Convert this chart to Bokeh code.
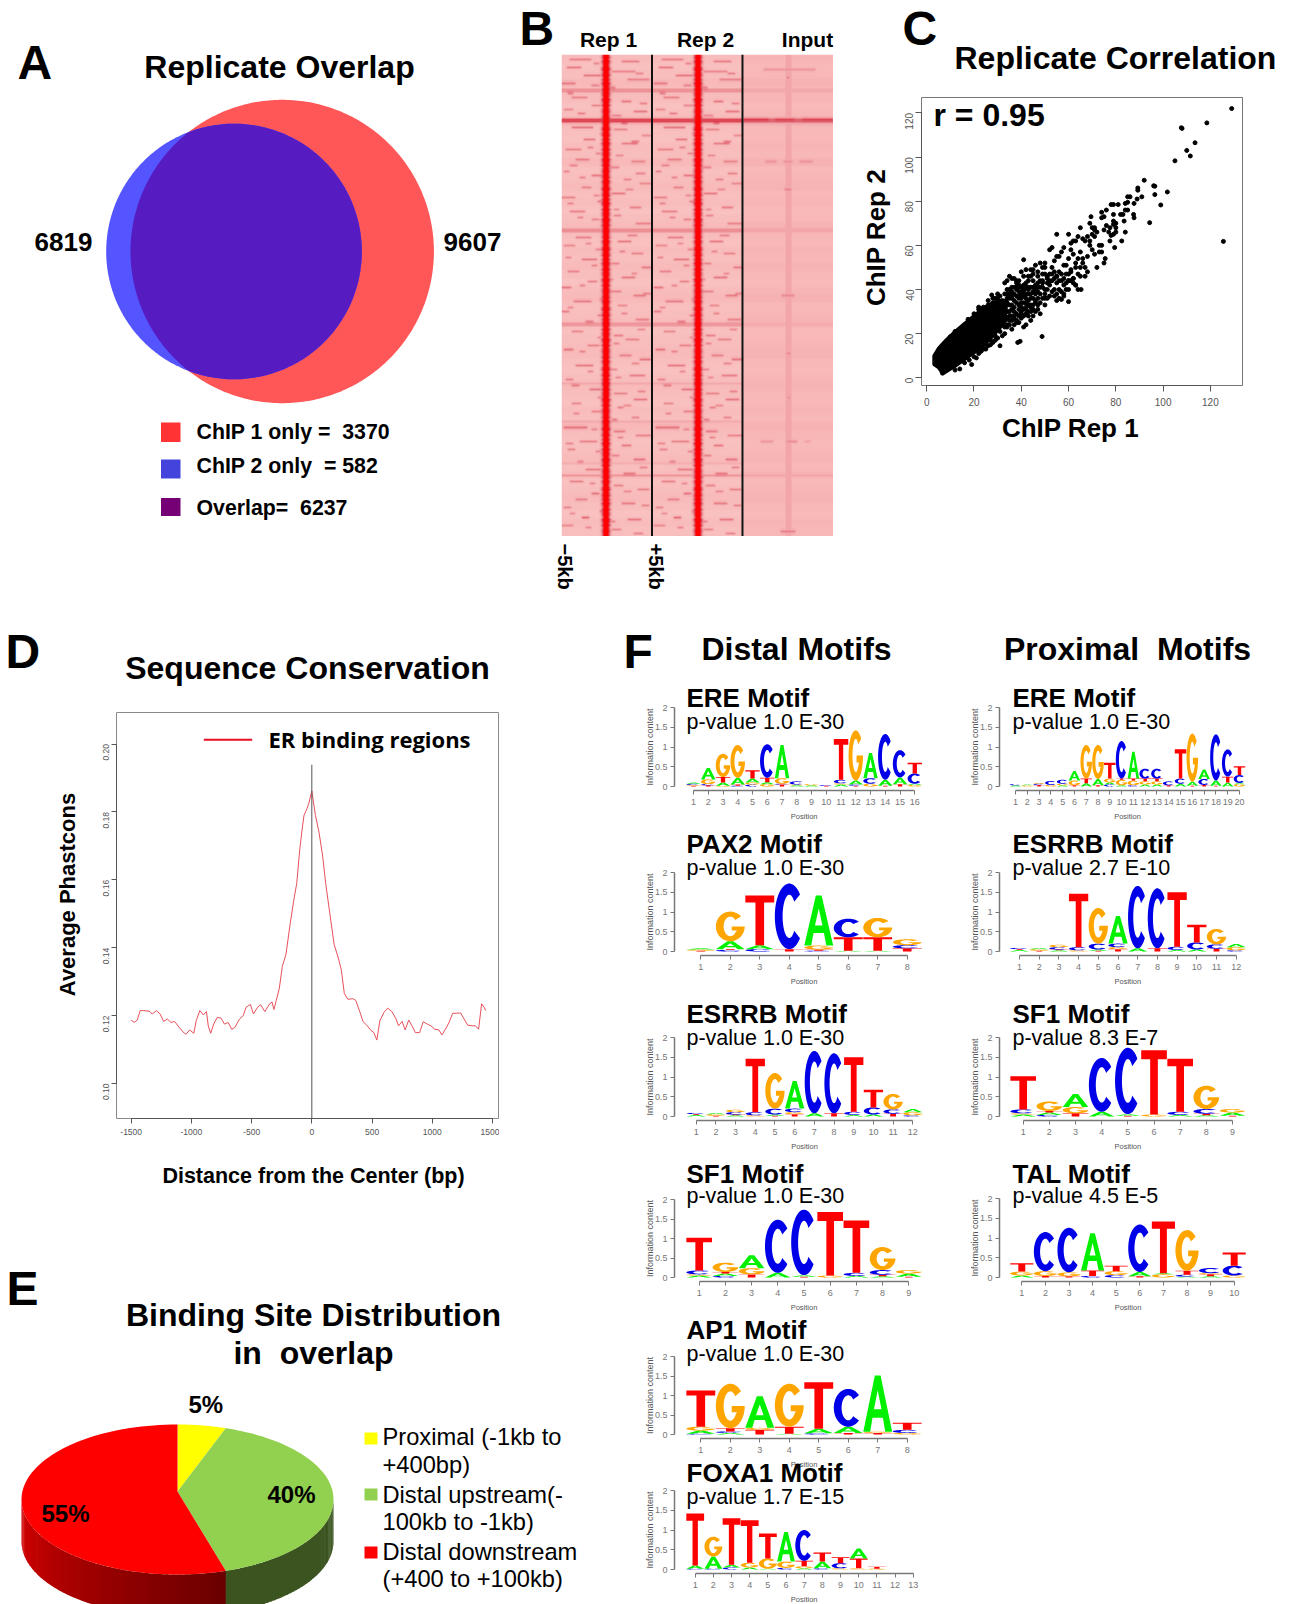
import numpy as np
from math import pi
from bokeh.plotting import figure
from bokeh.models import Column, FixedTicker, LinearColorMapper
from bokeh.core.properties import value
from bokeh.embed import file_html
from bokeh.resources import INLINE

# ---------------- data ----------------
VENN_CHIP1 = 9607
VENN_CHIP2 = 6819
VENN_LEGEND = ["ChIP 1 only =\u00a0\u00a03370", "ChIP 2 only\u00a0\u00a0= 582", "Overlap=\u00a0\u00a06237"]

PIE_LABELS = ["Proximal", "Distal upstream", "Distal downstream"]
PIE_VALUES = [5, 40, 55]

D_X = [-1500,-1475,-1450,-1425,-1400,-1350,-1325,-1290,-1260,-1230,-1200,-1170,-1140,-1100,-1070,-1045,-1015,-980,-960,-930,-900,-875,-860,-840,-815,-785,-755,-725,-695,-665,-640,-600,-570,-545,-510,-485,-450,-425,-390,-350,-330,-315,-295,-270,-245,-215,-180,-150,-125,-100,-80,-65,-40,-25,0,30,60,90,115,150,185,220,245,270,300,340,365,400,425,460,490,515,540,565,600,630,665,700,720,750,775,805,835,860,895,925,960,990,1020,1055,1080,1110,1140,1170,1200,1235,1265,1295,1330,1360,1385,1410,1430,1445]
D_Y = [.1187,.1180,.1187,.1215,.1215,.1213,.1205,.1215,.1205,.1183,.1190,.1180,.1183,.1165,.1152,.1145,.1158,.1148,.1185,.1215,.1202,.1212,.1170,.1148,.1175,.1195,.1193,.1175,.1180,.1160,.1165,.1190,.1200,.1225,.1233,.1205,.1225,.1232,.1212,.1235,.1240,.1218,.1245,.1280,.1345,.1380,.1470,.1540,.1590,.1690,.1750,.1790,.1810,.1825,.1862,.1790,.1740,.1670,.1590,.1500,.1410,.1370,.1335,.1265,.1248,.1250,.1245,.1210,.1183,.1170,.1157,.1150,.1128,.1185,.1210,.1222,.1212,.1190,.1170,.1183,.1158,.1187,.1168,.1150,.1150,.1182,.1175,.1170,.1160,.1158,.1143,.1160,.1180,.1207,.1207,.1208,.1190,.1172,.1170,.1170,.1160,.1235,.1225,.1215]

# scatter: solid core outline, then single points
C_CORE_X = [3,3,5,8,12,17,22,26,30,34,33,29,25,21,17,12.5,9.5,8,6.5,6,5]
C_CORE_Y = [6,10,13.5,17,21,25.5,30,33,35,35,25,20,15.5,12,9,5.5,3.5,2.5,1.5,3,4.5]
C_POINTS = [(129,122),(118.5,115.5),(108,113),(107.7,113.3),(113.5,106.5),(110,103),(111.5,100.5),(105,98.3),(125.5,61.8),(94.3,70.3),(99,78.3),(101.8,84.2),(96.5,83),(96.5,86.8),(96,87),(92,89.5),(89.3,85),(89.3,86),(91,82),(89,81),(87.7,79),(86,82),(85,82),(85,79.5),(84,79),(87.7,72.5),(87.5,74),(85,76),(84,76),(83,74),(82,74),(83.5,71),(79,74),(80,70),(79,78.5),(81,78.5),(78,78.5),(76,76),(74,75),(75,73),(74,72.5),(69.5,73),(79,71),(79,69.5),(80,68),(76,69),(77.5,68),(75,67),(77,66),(78,64.5),(77.5,62),(79,65),(80,66),(84,66),(82.5,62),(79.5,59),(75.5,54),(75,52),(74,57),(73,60),(74,60),(72,66),(71,67),(71,64),(70,65),(70,68),(71,68),
 (69,70),(68,64),(69,62),(67,62),(66,63),(65,68),(64,64),(63,62),(62,62),(61,61),(60,65),(66,52),(67,50),(68,55),(69,60),(70,58),(71,56),(72,50),(73,57),(65,57),(64,54),(63,50),(62,56),(61,58),(60,54),(59,51),(58,59),(57,57),(56,55),(55,55),(55,65),(68,48),(67,46),(66,54),(65,50),(64,47),(63,52),(62,45),(61,49),(60,44),(59,47),(58,51),(57,44),(56,48),(55,46),(54,53),(53,44),(52,58),(51,46),(53,59),(50,50),(60,44),(61,48),(62,45),(63,42),(64,40),(65,46),(63,42),(62,43),(60,40),(58,38),(56,36),(55,46),(54,48),(53,50),(52,42),(65.3,40),(60,34.5),(58,37),(57,35.5),(55,35),(54,40),
 (50,47),(49,50),(48,44),(47,48),(46,42),(45,49),(44,46),(43,44),(42,49),(41,40),(40,48),(39,44),(38,44),(37,45),(36,45),(35,46),(34,44),(33,43),(50,36),(49,43),(48,38),(47,41),(46,35),(45,44),(44,33),(43,40),(42,36),(41,42),(40,34),(39,37),(38,43),(37,32),(36,36),(35,30),(34,40),(33,32),(52,37),(51,40),(50,33),(49,44),(48,29),(47,36),(46,34),(45,41),(44,30),(43,35),(42,32),(41,28),(40,27),(39,36),(38,25),(37,30),(36,28),(35,36),(34,23),(33,31),(52,47),(51,45),(50,52),(49,47),(48,52),(47,46),(46,51),(45,47),(44,49),(43,46),(42,43),(41,46),(40,41),(39,42),(38,40),(37,41),(36,39),(35,40),(34,38),
 (48.8,18.7),(39.5,16.5),(38.5,16),(41,53.5),(36,22),(35,24),(27.5,37.5),(17.5,26.5),(10,18.6),(42,24),(41,23),(44,26),(45,28),(46,30),(47,33),(48,34),(37,24),(38,26),(39,28),(40,30),(41,31),(42,29),(43,28),(44,32),(45,31),(46,38),(47,39),
 (33,20),(31,14.5),(29,17),(27,15),(25,13),(23,12),(21,9),(19,6),(30,18),(28,16),(26,14.5),(24,13),(22,11),(20,9.5),(18,8),(16,6.8),(14,4),(12,3.5),(36,26),(34,24),(32,19),(30,38),(28,36),(26,35),(24,32),(22,31),(20,29),(18,26),(16,24),(14,22),(12,21),(10,18),(8,15.5),(6,13),(33,38),(31,37),(29,36),(38,34),(39,33),(40,36),(41,37),(42,38),(43,38),(44,38),(45,36),
 (34,34),(35,33),(36,33),(37,35),(38,37),(39,39),(40,38),(34,30),(35,28),(36,31),(37,27),(38,29),(39,31),(40,32),(34,27),(33,26),(32,24),(33,29),(31,32),(32,35),(34,36),(36,37),(41,34),(42,34),(43,33),(44,36),
 (35,38),(36,41),(37,38),(38,41),(39,41),(40,39),(41,39),(42,41),(43,41),(44,41),(45,39),(46,40),(47,43),(48,41),(49,41),(50,40),(51,43),(52,44),(53,47),(54,45),(55,43),(56,44),(57,47),(58,45),(59,43),(35,26),(37,28),(39,25),(40,29),(42,31),(43,30),(45,33),(47,31),(49,36),(50,38),(51,36),(53,39),(54,37),(55,38),(56,40),(57,39),(58,42),(59,40),(60,47),(61,44),(29,31),(31,28),(32,27),(33,23),(31,21),(29,19),(27,17),(25,15),(23,13.5),(30,36),(28,34),(26,33),(24,30),(22,32)]
C_X = [pt[0] for pt in C_POINTS]
C_Y = [pt[1] for pt in C_POINTS]

# heat map: tone of each 4-row group, horizontal bands, dashes (row, first col, last col, level)
H_ROW_TONE = [.24,.20,.22,.27,.21,.24,.19,.23,.25,.21,.20,.24,.22,.27,.20,.23,.25,.21,.24,.19,.22,.26,.23,.20,.24,.21,.25,.22,.19,.24,.27,.21,.23,.25,.20,.22,.24,.26,.21,.19,.23,.25,.22,.20,.24,.21,.27,.23,.20,.22,.25,.21,.24,.20,.23,.26,.22,.19,.24,.21,.23]
H_BANDS = [(17,19,.42),(32,34,.70),(87,89,.42),(134,136,.40),(164,165,.36),(183,184,.36),(204,205,.34),(210,211,.44)]
H_STREAKS = [(2,8,30,.5),(3,60,78,.52),(6,5,20,.55),(8,50,74,.5),(10,22,40,.55),(12,66,88,.5),(14,0,14,.52),(15,30,38,.5),(21,10,26,.5),(23,60,70,.55),(25,30,40,.5),(27,2,12,.48),(28,72,86,.55),(30,50,60,.48),(36,10,32,.55),(37,52,66,.5),(40,80,90,.48),(42,22,34,.55),(44,60,76,.52),(47,4,20,.5),(49,34,40,.5),(52,14,28,.52),(53,70,84,.48),(56,48,58,.5),(58,2,8,.52),(60,30,42,.55),(62,62,70,.5),(64,78,90,.48),(66,20,30,.5),(69,50,64,.55),(71,0,14,.5),(73,36,42,.55),(76,68,80,.52),(78,8,24,.52),(80,52,60,.5),(82,30,38,.5),(84,74,90,.5),(91,14,30,.52),(93,56,70,.55),(95,2,14,.48),(97,34,42,.5),(99,70,82,.5),(102,20,36,.55),(104,50,58,.5),(106,80,90,.52),(108,6,18,.5),(111,60,74,.55),(113,26,36,.52),(116,0,10,.55),(118,46,60,.5),(120,72,84,.52),(123,12,30,.52),(125,56,66,.48),(128,0,8,.52),(130,36,42,.55),(132,74,88,.5),(138,10,22,.5),(140,52,62,.52),(142,64,78,.5),(145,26,38,.5),(147,2,12,.55),(150,58,70,.5),(152,78,90,.55),(155,14,32,.55),(157,48,56,.5),(160,68,84,.52),(162,4,12,.5),(167,28,40,.55),(169,52,66,.5),(172,72,86,.55),(174,10,20,.5),(176,56,62,.52),(178,30,42,.5),(181,70,78,.5),(186,2,26,.55),(188,52,64,.52),(190,74,90,.5),(193,18,36,.52),(195,60,70,.55),(197,6,14,.5),(200,50,58,.5),(202,72,84,.55),(207,24,40,.52),(209,62,74,.5),(213,8,22,.52),(215,52,62,.5),(217,76,88,.5),(219,30,38,.55),(222,14,26,.5),(224,60,74,.52),(226,2,10,.5),(228,38,42,.55),(231,20,28,.6),(232,66,80,.55),(235,0,12,.48),(237,50,60,.5),(239,72,82,.5),
 (4,32,38,.5),(9,74,82,.5),(16,44,54,.48),(19,6,12,.5),(24,78,86,.5),(29,16,24,.52),(34,60,66,.5),(39,38,44,.48),(43,70,78,.5),(46,26,32,.5),(50,54,62,.48),(55,8,16,.5),(59,74,84,.5),(61,18,24,.5),(67,64,72,.48),(70,32,38,.5),(74,6,12,.5),(77,52,58,.48),(81,16,22,.5),(85,40,46,.5),(90,66,76,.5),(94,24,30,.48),(98,58,64,.5),(101,4,10,.5),(105,30,36,.5),(109,70,76,.48),(112,46,52,.5),(115,18,24,.5),(119,82,90,.48),(122,38,42,.5),(126,6,12,.48),(129,60,66,.5),(133,24,32,.5),(137,76,84,.48),(141,36,40,.5),(144,52,58,.5),(148,18,24,.5),(151,40,46,.48),(154,70,78,.5),(158,26,32,.5),(161,54,60,.48),(165,10,18,.5),(168,76,84,.5),(171,36,42,.5),(175,62,70,.48),(179,12,18,.5),(182,50,56,.5),(187,30,36,.48),(191,56,62,.5),(194,4,12,.5),(198,34,40,.5),(203,16,22,.48),(206,78,86,.5),(211,44,50,.5),(214,28,34,.5),(218,62,70,.48),(221,40,44,.5),(225,80,88,.5),(229,8,14,.48),(233,46,54,.5),(236,24,30,.5)]
H_PEAK_PROFILE = [.32,.38,.55,.85,1,1,1,1,1,.85,.55,.38,.32]
H_PEAK_WOBBLE = [.6,.8,.5,.9,.7,.5,.8,1,.6,.7,.9,.5,.8,.6,1,.7,.5,.9,.6,.8,.7,.5,1,.8,.6,.9,.5,.7,.8,.6]
H_INPUT_STREAKS = [(7,20,73,.42),(32,0,25,.78),(32,32,52,.72),(32,60,90,.72),(53,22,33,.42),(53,40,50,.42),(53,57,70,.42),(11,43,47,.5),(67,41,49,.48),(120,38,52,.45),(149,43,48,.48),(193,17,30,.42),(193,43,55,.45),(193,62,68,.38),(238,37,53,.5),(171,44,48,.45)]
H_INPUT_PEAK = .33

LOGOS = {
 "d_ere": ["T02 G02 C03 A03","T03 C03 G12 A29","G02 A08 T14 G59","C02 T03 A17 G83","C05 G05 A10 T21","G06 A05 T11 C85","T05 C02 G14 A84","A03 G02 C08","A03 G03","T02 C02","A05 G03 C09 T103","T02 C03 A10 G127","G07 C14 A64","T02 A15 C116","T06 A17 C69","G04 A03 C26 T27"],
 "d_pax": ["T02 G03 A03","C04 T02 A20 G75","C06 A10 T126","T06 C166","C02 T03 G10 A127","A02 T34 C47","A02 T34 G49","T08 C08 G15"],
 "esrrb": ["A04 T02 C03","T02 G04 A03","A03 T02 C06 G06","G03 C08 T135","T02 A03 C15 G90","T06 G05 C09 A70","A08 C158","T08 C152","A04 C08 T138","A05 C18 T45","T07 C11 G39","C03 G08 A08"],
 "sf1": ["A05 G03 C10 T84","C04 A06 T04 G24","T08 G16 A33","A12 C136","T02 A04 C168","G05 T163","A04 C08 T134","A03 T04 C12 G59","T02 A08 G09"],
 "ap1": ["C02 A08 G10 T93","A04 C04 T08 G114","T12 G05 A81","A02 T18 G110","C03 A12 T119","T04 A16 C97","T04 G03 A144","G04 C08 T18"],
 "foxa": ["C02 A08 T132","C02 A31 G50","C05 A07 T118","A05 G12 T108","A02 G26 T63","C04 G16 A75","A03 G05 T14 C78","C03 A17 T23","G03 C13 T15","G03 T25 A25","G02 T05","",""],
 "p_ere": ["A03 C03","G03 A02","T04 C03 G02","G04 C10","A03 G04 C10","T03 G12 A24","A08 T12 G85","T03 A16 G86","C05 A05 G10 T40","A03 G14 T03 C95","C03 G12 T05 A68","A05 G08 T07 C25","A05 G08 T07 C25","T03 C10","A07 C13 T74","T02 A10 G122","T04 C15 A24","T02 A13 C117","A10 T15 C69","G06 A03 C20 T22"],
 "tal": ["A05 G10 T21","T04 G12 C99","T03 G10 C113","C04 T14 A94","C06 G10 T14","T03 A11 C120","G08 A03 T131","A02 C05 T10 G103","A03 T05 G03 C13","G05 C25 T33"],
}
DISTAL = [("d_ere","ERE Motif","p-value 1.0 E-30"),("d_pax","PAX2 Motif","p-value 1.0 E-30"),("esrrb","ESRRB Motif","p-value 1.0 E-30"),("sf1","SF1 Motif","p-value 1.0 E-30"),("ap1","AP1 Motif","p-value 1.0 E-30"),("foxa","FOXA1 Motif","p-value 1.7 E-15")]
PROXIMAL = [("p_ere","ERE Motif","p-value 1.0 E-30"),("esrrb","ESRRB Motif","p-value 2.7 E-10"),("sf1","SF1 Motif","p-value 8.3 E-7"),("tal","TAL Motif","p-value 4.5 E-5")]

# ---------------- layout constants (page pixels) ----------------
D_GEOM = [(707,786,693,914.3,707,729.5),(872,951,700.3,906.7,853,875),(1037,1116,695.7,912.3,1023,1045),(1199,1277,698.7,908.3,1183,1203),(1356,1434,700.3,906.7,1339,1361),(1490,1569,694.7,912.7,1482,1504)]
P_GEOM = [(707,786,1015,1239,707,729.5),(872,951,1019,1235.7,853,875),(1037,1116,1022.7,1232,1023,1045),(1198,1277,1021.3,1233.7,1183,1203)]

FONT = "Liberation Sans"
LEFT = 50   # the left border Bokeh keeps in every figure
children = []

def place(f, left, top):
    # the root sits LEFT px left of the page, so a child's left is page position + LEFT
    f.styles = {"position": "absolute", "left": f"{left + LEFT}px", "top": f"{top}px"}
    children.append(f)

def panel(l, t, r, b, xr, yr, mb=0, mr=0, mt=0, axes=False):
    kw = {} if axes else {"x_axis_type": None, "y_axis_type": None}
    f = figure(width=r - l + LEFT + mr, height=b - t + mb + mt, x_range=xr, y_range=yr,
               output_backend="svg", toolbar_location=None, tools="",
               min_border_left=LEFT, min_border_right=mr, min_border_top=mt, min_border_bottom=mb,
               background_fill_color=None, border_fill_color=None, outline_line_color=None, **kw)
    f.grid.visible = False
    place(f, l - LEFT, t - mt)
    return f

def style_axis(ax, ticks, size, over=None, color="#555555", tick=5, standoff=4):
    ax.ticker = FixedTicker(ticks=ticks)
    ax.bounds = (min(ticks), max(ticks))
    ax.axis_line_color = color
    ax.major_tick_line_color = color
    ax.minor_tick_line_color = None
    ax.major_tick_in = 0
    ax.major_tick_out = tick
    ax.major_label_text_color = color
    ax.major_label_text_font = FONT
    ax.major_label_text_font_size = size
    ax.major_label_standoff = standoff
    if over:
        ax.major_label_overrides = over

# ---------------- A venn ----------------
k = 151.7 / np.sqrt(VENN_CHIP1)
r1, r2 = k * np.sqrt(VENN_CHIP1), k * np.sqrt(VENN_CHIP2)
c1, c2, cy = 281.7, 233.5, 251
fA = panel(100, 95, 440, 408, (100, 440), (408, 95))
th = np.linspace(0, 2 * pi, 361)
fA.patch(c1 + r1 * np.cos(th), cy + r1 * np.sin(th), fill_color="#FF5757", line_color=None)
fA.patch(c2 + r2 * np.cos(th), cy + r2 * np.sin(th), fill_color="#5555FF", line_color=None)
bx, by = c2 + r2 * np.cos(th), cy + r2 * np.sin(th)
rx, ry = c1 + r1 * np.cos(th), cy + r1 * np.sin(th)
ins_b = (bx - c1) ** 2 + (by - cy) ** 2 <= r1 ** 2
ins_r = (rx - c2) ** 2 + (ry - cy) ** 2 <= r2 ** 2
lx = np.r_[bx[ins_b], rx[ins_r]]
ly = np.r_[by[ins_b], ry[ins_r]]
order = np.argsort(np.arctan2(ly - cy, lx - (lx.min() + lx.max()) / 2))
fA.patch(lx[order], ly[order], fill_color="#561BC1", line_color=None)

# ---------------- B heat map ----------------
def soften(a):
    out = a.copy()
    out[1:-1, :] = .15 * a[:-2, :] + .7 * a[1:-1, :] + .15 * a[2:, :]
    out2 = out.copy()
    out2[:, 1:-1] = .25 * out[:, :-2] + .5 * out[:, 1:-1] + .25 * out[:, 2:]
    return out2

def heat(streaks, bands, peak_col, input_panel=False, shift=0):
    rows, cols = 241, 91
    a = np.zeros((rows, cols))
    for i in range(rows):
        a[i, :] = H_ROW_TONE[i // 4] if not input_panel else .28 + (H_ROW_TONE[i // 4] - .22) * .4
    for r0, r1_, lv in bands:
        a[r0:r1_, :] = np.maximum(a[r0:r1_, :], lv if not input_panel else lv * .8)
    for row, c0, c1_, lv in streaks:
        c0, c1_ = min(c0 + shift, 90), min(c1_ + shift, 91)
        a[row, c0:c1_] = np.maximum(a[row, c0:c1_], lv)
    a = soften(a)
    if input_panel:
        a[:, peak_col - 3:peak_col + 4] = np.maximum(a[:, peak_col - 3:peak_col + 4], H_INPUT_PEAK)
    else:
        n = len(H_PEAK_PROFILE) // 2
        for i in range(rows):
            w = H_PEAK_WOBBLE[i % len(H_PEAK_WOBBLE)]
            for j, pv in enumerate(H_PEAK_PROFILE):
                cur = a[i, peak_col + j - n]
                val = 1.0 if pv == 1 else cur + (pv - cur) * w
                a[i, peak_col + j - n] = max(cur, val)
    return a[::-1]

stops_v = [0, .28, .55, .8, 1]
stops_c = np.array([[252, 214, 212], [248, 184, 184], [222, 90, 104], [228, 32, 48], [255, 0, 0]])
palette = ["#%02x%02x%02x" % tuple(int(np.interp(t, stops_v, stops_c[:, i])) for i in range(3)) for t in np.linspace(0, 1, 256)]
mapper = LinearColorMapper(palette=palette, low=0, high=1)
fB = panel(561, 54, 833, 536, (0, 272), (0, 482))
fB.image(image=[heat(H_STREAKS, H_BANDS, 44)], x=0, y=0, dw=91, dh=482, color_mapper=mapper)
fB.image(image=[heat(H_STREAKS, H_BANDS, 45, shift=1)], x=91, y=0, dw=91, dh=482, color_mapper=mapper)
fB.image(image=[heat(H_INPUT_STREAKS, H_BANDS, 45, True)], x=182, y=0, dw=90, dh=482, color_mapper=mapper)
fB.segment(x0=[90.5, 181], y0=[0, 0], x1=[90.5, 181], y1=[482, 482], line_color="#111111", line_width=2)

# ---------------- C scatter ----------------
fC = panel(921, 97, 1243, 385, (-2.2, 134), (-3.5, 127), mb=40, axes=True)
fC.patch(C_CORE_X, C_CORE_Y, fill_color="black", line_color="black", line_width=3)
fC.scatter(C_X, C_Y, size=4, color="black")
fC.outline_line_color = "#777777"
style_axis(fC.xaxis[0], [0, 20, 40, 60, 80, 100, 120], "10px", color="#555555", tick=6, standoff=6)
style_axis(fC.yaxis[0], [0, 20, 40, 60, 80, 100, 120], "10px", color="#555555", tick=6, standoff=6)
fC.yaxis[0].major_label_orientation = pi / 2

# ---------------- D line ----------------
fD = panel(116, 712, 499, 1118, (-1622, 1558.6), (.0897, .2093), mb=30, axes=True)
fD.line(D_X, D_Y, line_color="#E8505A", line_width=1)
fD.segment(x0=[0], y0=[.0897], x1=[0], y1=[.1939], line_color="#555555", line_width=1)
fD.outline_line_color = "#8A8A8A"
style_axis(fD.xaxis[0], [-1500, -1000, -500, 0, 500, 1000, 1500], "8.5px", {-1500: "-1500", -1000: "-1000", -500: "-500"}, tick=5, standoff=5)
style_axis(fD.yaxis[0], [.10, .12, .14, .16, .18, .20], "8.5px", {.10: "0.10", .12: "0.12", .14: "0.14", .16: "0.16", .18: "0.18", .20: "0.20"}, tick=5, standoff=5)
fD.yaxis[0].major_label_orientation = pi / 2

# ---------------- E 3D pie ----------------
pcx, pcy, prx, pry, pdepth, pvertex = 177, 1499, 156, 75, 42, 8
fE = panel(0, 1410, 345, 1604, ((0 - pcx) / prx, (345 - pcx) / prx), ((pcy - 1604) / pry, (pcy - 1410) / pry))
cum = np.r_[0, np.cumsum(PIE_VALUES)] / sum(PIE_VALUES) * 2 * pi
top_cols = ["#FFFF00", "#92D050", "#FF0000"]
dep = pdepth / pry
sx, sy, sc = [], [], []
for a0, a1, kind in [(cum[1], cum[2], "g"), (cum[2], cum[3], "r")]:
    lo, hi = max(a0, pi / 2), min(a1, 3 * pi / 2)
    ed = np.linspace(lo, hi, 46)
    for i in range(45):
        aa = np.linspace(ed[i], ed[i + 1] + .01, 3)
        xs_ = np.sin(aa); ys_ = np.cos(aa)
        sx.append(np.r_[xs_, xs_[::-1]]); sy.append(np.r_[ys_, ys_[::-1] - dep])
        if kind == "g":
            sc.append("#3C5520")
        else:
            t = i / 44
            sc.append("#%02x0000" % int(0x6A + (0xD8 - 0x6A) * t))
fE.patches(sx, sy, fill_color=sc, line_color=None)
vy = pvertex / pry
for i in range(3):
    aa = np.linspace(cum[i], cum[i + 1], 90)
    fE.patch(np.r_[0, np.sin(aa)], np.r_[vy, np.cos(aa)], fill_color=top_cols[i], line_color=None)

# ---------------- F logos ----------------
def unit_letter(ch):
    if ch == "T":
        return [0, 1, 1, .65, .65, .35, .35, 0], [1, 1, .86, .86, 0, 0, .86, .86]
    if ch == "A":
        return ([0, .4, .5, .5, .37, .63, .5, .5, .6, 1, .76, .68, .32, .24],
                [0, 1, 1, .74, .40, .40, .74, 1, 1, 0, 0, .25, .25, 0])
    t_out = np.radians(np.linspace(42, 318, 50))
    t_in = t_out[::-1]
    if ch == "C":
        return (np.r_[.5 + .5 * np.cos(t_out), .5 + .23 * np.cos(t_in)].tolist(),
                np.r_[.5 + .5 * np.sin(t_out), .5 + .33 * np.sin(t_in)].tolist())
    t_out = np.radians(np.linspace(42, 360, 50))
    t_in = np.radians(np.linspace(325, 42, 50))
    return (np.r_[.5 + .5 * np.cos(t_out), [.55, .55, .73], .5 + .23 * np.cos(t_in)].tolist(),
            np.r_[.5 + .5 * np.sin(t_out), [.5, .36, .36], .5 + .33 * np.sin(t_in)].tolist())

LET_COL = {"A": "#00F000", "C": "#0000E8", "G": "#FFA500", "T": "#FF0000"}

def logo(key, geom, axis_x):
    y2, y0, x1, xn, _, _ = geom
    stacks = LOGOS[key]
    n = len(stacks)
    dx = (xn - x1) / (n - 1)
    dy = (y0 - y2) / 2
    l, r, t, b = int(axis_x), int(xn + dx * .5 + 6), int(y2 - 6), int(y0 + 4)
    f = panel(l, t, r, b, (1 + (l - x1) / dx, 1 + (r - x1) / dx), (-(b - y0) / dy, 2 + (y2 - t) / dy), mb=24, axes=True)
    xs, ys, cs = [], [], []
    for i, s in enumerate(stacks):
        base_h = 0.0
        for tok in s.split():
            ch, h = tok[0], int(tok[1:]) / 100
            ux, uy = unit_letter(ch)
            xs.append((np.array(ux) * .98 + i + 1 - .49).tolist())
            ys.append((np.array(uy) * h + base_h).tolist())
            cs.append(LET_COL[ch])
            base_h += h
    f.patches(xs, ys, fill_color=cs, line_color=None)
    style_axis(f.xaxis[0], list(range(1, n + 1)), "9px", color="#777777", tick=4, standoff=4)
    style_axis(f.yaxis[0], [0, .5, 1, 1.5, 2], "9px", {0: "0", .5: "0.5", 1: "1", 1.5: "1.5", 2: "2"}, color="#777777", tick=4, standoff=3)
    f.xaxis[0].axis_line_width = 1.5
    f.yaxis[0].axis_line_width = 1.5

for (key, _, _), g in zip(DISTAL, D_GEOM):
    logo(key, g, 674)
for (key, _, _), g in zip(PROXIMAL, P_GEOM):
    logo(key, g, 999)

# ---------------- text layer ----------------
base = figure(width=1293 + LEFT, height=1604, x_range=(0, 1293), y_range=(1604, 0), output_backend="svg",
              toolbar_location=None, tools="", min_border_left=LEFT, min_border_right=0, min_border_top=0, min_border_bottom=0,
              x_axis_type=None, y_axis_type=None,
              background_fill_color=None, border_fill_color=None, outline_line_color=None)
base.grid.visible = False

BASE_SHIFT = .37  # the SVG text sits this fraction of its size under the asked baseline

def T(x, y, s, size, bold=True, align="left", angle=0, color="black", font=FONT):
    if angle == 0:
        y = y - BASE_SHIFT * size
    elif angle > 0:
        x = x - BASE_SHIFT * size
    else:
        x = x + BASE_SHIFT * size
    base.text([x], [y], text=[s], text_font=value(font), text_font_size=f"{size}px",
              text_font_style="bold" if bold else "normal", text_align=align, text_baseline="alphabetic",
              text_color=color, angle=angle)

for s, x, y in [("A", 17, 80), ("B", 519, 46), ("C", 902, 46), ("D", 5, 669), ("E", 6, 1306), ("F", 623, 669)]:
    T(x, y, s, 48)
T(279, 78.5, "Replicate Overlap", 32, align="center")
T(34, 251, str(VENN_CHIP2), 26)
T(443, 251, str(VENN_CHIP1), 26)
base.quad(left=[160.5, 160.5, 160.5], right=[180, 180, 180], top=[422, 459, 497.5], bottom=[441.5, 478, 515.5],
          fill_color=["#FF3333", "#4444DD", "#750075"], line_color=None)
for s, y in zip(VENN_LEGEND, [439, 473, 515]):
    T(196, y, s, 21.3)

T(608, 47, "Rep 1", 21, align="center")
T(705, 47, "Rep 2", 21, align="center")
T(807, 47, "Input", 21, align="center")
T(557, 543, "\u22125kb", 20, angle=-pi / 2)
T(648, 543, "+5kb", 20, angle=-pi / 2)

T(954, 69.5, "Replicate Correlation", 32)
T(933, 126, "r = 0.95", 32)
T(1070, 437, "ChIP Rep 1", 26, align="center")
T(885, 237, "ChIP Rep 2", 26, align="center", angle=pi / 2)

T(307, 679, "Sequence Conservation", 32, align="center")
base.line([203.3, 251.7], [739.3, 739.3], line_color="#E81020", line_width=2)
T(268, 747, "ER binding regions", 22, font="Open Sans")
T(75, 894, "Average Phastcons", 22, align="center", angle=pi / 2)
T(313, 1183, "Distance from the Center (bp)", 21.5, align="center")

T(313, 1326, "Binding Site Distribution", 32, align="center")
T(313, 1364, "in\u00a0\u00a0overlap", 32, align="center")
T(188, 1413, "5%", 24)
T(267, 1503, "40%", 24)
T(41, 1522, "55%", 24)
base.quad(left=[364, 364, 364], right=[377, 377, 377], top=[1432, 1488, 1546], bottom=[1444, 1500, 1558],
          fill_color=["#FFFF00", "#92D050", "#FF0000"], line_color=None)
for s, y in zip(["Proximal (-1kb to", "+400bp)", "Distal upstream(-", "100kb to -1kb)", "Distal downstream", "(+400 to +100kb)"],
                [1445, 1473, 1503, 1530, 1560, 1587]):
    T(382, y, s, 23.7, bold=False)

T(796, 660, "Distal Motifs", 32, align="center")
T(1127, 660, "Proximal\u00a0\u00a0Motifs", 32, align="center")

def motif_text(rows, geoms, tx, ax):
    for (key, title, pv), g in zip(rows, geoms):
        T(tx, g[4], title, 26)
        T(tx, g[5], pv, 21.5, bold=False)
        T((g[2] + g[3]) / 2, g[1] + 33, "Position", 7.5, bold=False, align="center", color="#555555")
        T(ax - 21, (g[0] + g[1]) / 2, "Information content", 9, bold=False, align="center", angle=pi / 2, color="#555555")

motif_text(DISTAL, D_GEOM, 686, 674)
motif_text(PROXIMAL, P_GEOM, 1012, 999)
place(base, -LEFT, 0)

root = Column(children=children, width=1293 + LEFT, height=1604,
              styles={"position": "absolute", "left": f"{-LEFT}px", "top": "0px"})
open("out.html", "w").write(file_html(root, INLINE))
